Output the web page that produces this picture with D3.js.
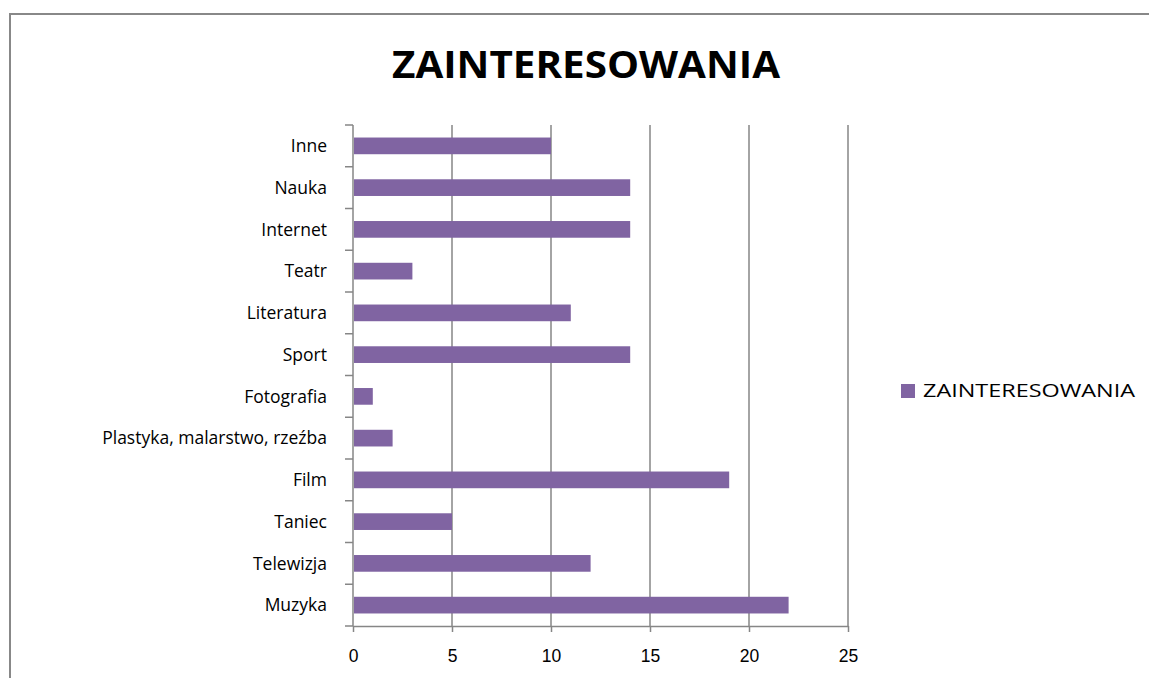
<!DOCTYPE html>
<html>
<head>
<meta charset="utf-8">
<style>
    body { margin: 0; background: #fff; }
    svg { display: block; font-family: 'Open Sans', 'Liberation Sans', sans-serif; }
    .x .tick text { font-size: 17.5px; fill: #000; }
    .tick line, .domain { stroke: #868686; }
    .cat { font-size: 17.5px; fill: #000; }
</style>
</head>
<body>
<svg width="1149" height="678"></svg>
<script src="https://d3js.org/d3.v7.min.js"></script>
<script>
    // data, bottom to top as in the chart
    let categories = ["Muzyka", "Telewizja", "Taniec", "Film", "Plastyka, malarstwo, rzeźba",
        "Fotografia", "Sport", "Literatura", "Teatr", "Internet", "Nauka", "Inne"]
    let values = [22, 12, 5, 19, 2, 1, 14, 11, 3, 14, 14, 10]
    let xTicks = [0, 5, 10, 15, 20, 25]
    let seriesName = "ZAINTERESOWANIA"
    let title = "ZAINTERESOWANIA"

    let data = categories.map((c, i) => ({ name: c, value: values[i] }))

    let svg = d3.select("svg")
    let purple = "#8064A2"

    // chart frame (only top and left edges are visible)
    svg.append("path")
        .attr("d", "M10,678 V14 H1149")
        .style("fill", "none")
        .style("stroke", "#888")
        .style("stroke-width", 2)

    let x = d3.scaleLinear()
        .domain([0, 25])
        .range([353, 848])

    let y = d3.scaleBand()
        .domain(categories.slice().reverse())
        .range([125, 626])
        .paddingInner(0.6)
        .paddingOuter(0.3)

    // vertical gridlines
    svg.append("g")
        .selectAll("line")
        .data(xTicks.slice(1))
        .join("line")
        .attr("x1", d => x(d))
        .attr("x2", d => x(d))
        .attr("y1", 125)
        .attr("y2", 626)
        .style("stroke", "#868686")
        .style("stroke-width", 1.5)

    let xAxis = svg.append("g")
        .attr("class", "x axis")
        .attr("transform", "translate(0,626)")
        .call(d3.axisBottom(x).tickValues(xTicks).tickSize(6).tickPadding(18).tickSizeOuter(0))
    xAxis.selectAll("line, path").style("stroke-width", 1.5)

    // category boundary ticks on the y axis
    let step = 501 / categories.length
    let yBound = d3.range(categories.length + 1).map(i => 125 + i * step)
    let yAxis = svg.append("g").attr("class", "y axis")
    yAxis.append("line")
        .attr("x1", 353).attr("x2", 353)
        .attr("y1", 125).attr("y2", 626)
        .style("stroke", "#868686").style("stroke-width", 1.5)
    yAxis.selectAll(".bt")
        .data(yBound)
        .join("line")
        .attr("class", "bt")
        .attr("x1", 345).attr("x2", 353)
        .attr("y1", d => d).attr("y2", d => d)
        .style("stroke", "#868686").style("stroke-width", 1.5)
    yAxis.selectAll("text")
        .data(categories)
        .join("text")
        .attr("class", "cat")
        .attr("x", 327)
        .attr("y", d => y(d) + y.bandwidth() / 2)
        .attr("dy", "0.35em")
        .attr("text-anchor", "end")
        .text(d => d)

    svg.append("g")
        .selectAll("rect")
        .data(data)
        .join("rect")
        .attr("x", x(0) + 1)
        .attr("y", d => y(d.name))
        .attr("width", d => x(d.value) - x(0) - 1)
        .attr("height", y.bandwidth())
        .style("fill", purple)

    svg.append("text")
        .attr("x", 586)
        .attr("y", 78)
        .attr("text-anchor", "middle")
        .attr("textLength", 388)
        .attr("lengthAdjust", "spacingAndGlyphs")
        .style("font-size", "38px")
        .style("font-weight", "bold")
        .text(title)

    // legend
    svg.append("rect")
        .attr("x", 901).attr("y", 384)
        .attr("width", 14).attr("height", 14)
        .style("fill", purple)
    svg.append("text")
        .attr("x", 923).attr("y", 391)
        .attr("dy", "0.35em")
        .attr("textLength", 212)
        .attr("lengthAdjust", "spacingAndGlyphs")
        .style("font-size", "18px")
        .text(seriesName)
</script>
</body>
</html>
